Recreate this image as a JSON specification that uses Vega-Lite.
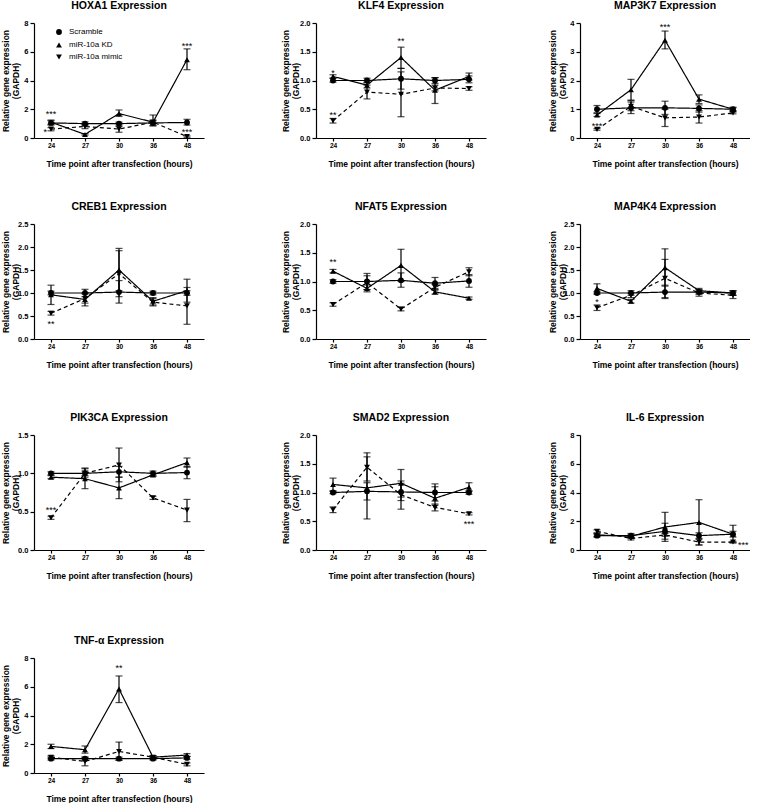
{
"$schema": "https://vega.github.io/schema/vega-lite/v6.json",
"padding": {"left": 0, "top": 0, "right": 0, "bottom": 0},
"background": "white",
"config": {
  "view": {"stroke": null},
  "font": "Liberation Sans",
  "title": {"fontSize": 10.5, "fontWeight": "bold", "color": "black", "offset": 8, "font": "Liberation Sans"},
  "axis": {"grid": false, "domainColor": "black", "domainWidth": 1.2, "tickColor": "black", "tickWidth": 1.2, "labelColor": "black", "labelFont": "Liberation Sans", "labelFontWeight": "bold", "titleColor": "black", "titleFont": "Liberation Sans", "titleFontWeight": "bold"},
  "axisX": {"labelAngle": 0, "labelFontSize": 6.5, "tickSize": 3, "labelPadding": 1, "titlePadding": 11, "titleFontSize": 8.5},
  "axisY": {"labelFontSize": 7.5, "tickSize": 4, "labelPadding": 2, "titleFontSize": 8.5, "titleLineHeight": 10, "titleBaseline": "middle", "titleAngle": -90}
},
"datasets": {
"d": [
{"gene":"HOXA1","time":"24","group":"Scramble","mean":1.05,"lo":0.9,"hi":1.2},
{"gene":"HOXA1","time":"27","group":"Scramble","mean":1.0,"lo":0.88,"hi":1.12},
{"gene":"HOXA1","time":"30","group":"Scramble","mean":1.0,"lo":0.9,"hi":1.1},
{"gene":"HOXA1","time":"36","group":"Scramble","mean":1.05,"lo":0.85,"hi":1.25},
{"gene":"HOXA1","time":"48","group":"Scramble","mean":1.08,"lo":0.9,"hi":1.3},
{"gene":"HOXA1","time":"24","group":"miR-10a KD","mean":1.1,"lo":0.95,"hi":1.25},
{"gene":"HOXA1","time":"27","group":"miR-10a KD","mean":0.25,"lo":0.2,"hi":0.3},
{"gene":"HOXA1","time":"30","group":"miR-10a KD","mean":1.7,"lo":1.5,"hi":1.95},
{"gene":"HOXA1","time":"36","group":"miR-10a KD","mean":1.1,"lo":0.85,"hi":1.6},
{"gene":"HOXA1","time":"48","group":"miR-10a KD","mean":5.45,"lo":4.75,"hi":6.2},
{"gene":"HOXA1","time":"24","group":"miR-10a mimic","mean":0.62,"lo":0.5,"hi":0.72},
{"gene":"HOXA1","time":"27","group":"miR-10a mimic","mean":0.8,"lo":0.65,"hi":0.95},
{"gene":"HOXA1","time":"30","group":"miR-10a mimic","mean":0.62,"lo":0.4,"hi":0.8},
{"gene":"HOXA1","time":"36","group":"miR-10a mimic","mean":1.1,"lo":1.0,"hi":1.2},
{"gene":"HOXA1","time":"48","group":"miR-10a mimic","mean":0.1,"lo":0.05,"hi":0.15},
{"gene":"KLF4","time":"24","group":"Scramble","mean":1.0,"lo":0.97,"hi":1.04},
{"gene":"KLF4","time":"27","group":"Scramble","mean":1.0,"lo":0.96,"hi":1.04},
{"gene":"KLF4","time":"30","group":"Scramble","mean":1.03,"lo":0.85,"hi":1.21},
{"gene":"KLF4","time":"36","group":"Scramble","mean":1.0,"lo":0.95,"hi":1.05},
{"gene":"KLF4","time":"48","group":"Scramble","mean":1.02,"lo":0.96,"hi":1.08},
{"gene":"KLF4","time":"24","group":"miR-10a KD","mean":1.07,"lo":1.04,"hi":1.1},
{"gene":"KLF4","time":"27","group":"miR-10a KD","mean":0.92,"lo":0.87,"hi":0.97},
{"gene":"KLF4","time":"30","group":"miR-10a KD","mean":1.4,"lo":1.21,"hi":1.58},
{"gene":"KLF4","time":"36","group":"miR-10a KD","mean":0.83,"lo":0.6,"hi":1.05},
{"gene":"KLF4","time":"48","group":"miR-10a KD","mean":1.07,"lo":1.01,"hi":1.13},
{"gene":"KLF4","time":"24","group":"miR-10a mimic","mean":0.3,"lo":0.26,"hi":0.34},
{"gene":"KLF4","time":"27","group":"miR-10a mimic","mean":0.8,"lo":0.68,"hi":0.92},
{"gene":"KLF4","time":"30","group":"miR-10a mimic","mean":0.76,"lo":0.37,"hi":1.15},
{"gene":"KLF4","time":"36","group":"miR-10a mimic","mean":0.87,"lo":0.82,"hi":0.92},
{"gene":"KLF4","time":"48","group":"miR-10a mimic","mean":0.86,"lo":0.83,"hi":0.89},
{"gene":"MAP3K7","time":"24","group":"Scramble","mean":1.0,"lo":0.88,"hi":1.13},
{"gene":"MAP3K7","time":"27","group":"Scramble","mean":1.05,"lo":0.85,"hi":1.25},
{"gene":"MAP3K7","time":"30","group":"Scramble","mean":1.05,"lo":0.82,"hi":1.28},
{"gene":"MAP3K7","time":"36","group":"Scramble","mean":1.03,"lo":0.9,"hi":1.15},
{"gene":"MAP3K7","time":"48","group":"Scramble","mean":1.0,"lo":0.93,"hi":1.07},
{"gene":"MAP3K7","time":"24","group":"miR-10a KD","mean":0.8,"lo":0.75,"hi":0.85},
{"gene":"MAP3K7","time":"27","group":"miR-10a KD","mean":1.68,"lo":1.32,"hi":2.04},
{"gene":"MAP3K7","time":"30","group":"miR-10a KD","mean":3.4,"lo":3.1,"hi":3.72},
{"gene":"MAP3K7","time":"36","group":"miR-10a KD","mean":1.35,"lo":1.2,"hi":1.5},
{"gene":"MAP3K7","time":"48","group":"miR-10a KD","mean":1.0,"lo":0.95,"hi":1.05},
{"gene":"MAP3K7","time":"24","group":"miR-10a mimic","mean":0.3,"lo":0.27,"hi":0.33},
{"gene":"MAP3K7","time":"27","group":"miR-10a mimic","mean":1.1,"lo":0.95,"hi":1.3},
{"gene":"MAP3K7","time":"30","group":"miR-10a mimic","mean":0.7,"lo":0.4,"hi":1.0},
{"gene":"MAP3K7","time":"36","group":"miR-10a mimic","mean":0.73,"lo":0.52,"hi":0.95},
{"gene":"MAP3K7","time":"48","group":"miR-10a mimic","mean":0.87,"lo":0.84,"hi":0.9},
{"gene":"CREB1","time":"24","group":"Scramble","mean":1.0,"lo":0.96,"hi":1.04},
{"gene":"CREB1","time":"27","group":"Scramble","mean":1.0,"lo":0.92,"hi":1.08},
{"gene":"CREB1","time":"30","group":"Scramble","mean":1.02,"lo":0.78,"hi":1.27},
{"gene":"CREB1","time":"36","group":"Scramble","mean":1.0,"lo":0.96,"hi":1.04},
{"gene":"CREB1","time":"48","group":"Scramble","mean":1.0,"lo":0.95,"hi":1.05},
{"gene":"CREB1","time":"24","group":"miR-10a KD","mean":0.96,"lo":0.75,"hi":1.17},
{"gene":"CREB1","time":"27","group":"miR-10a KD","mean":0.86,"lo":0.72,"hi":1.0},
{"gene":"CREB1","time":"30","group":"miR-10a KD","mean":1.5,"lo":1.05,"hi":1.97},
{"gene":"CREB1","time":"36","group":"miR-10a KD","mean":0.82,"lo":0.74,"hi":0.9},
{"gene":"CREB1","time":"48","group":"miR-10a KD","mean":1.05,"lo":0.8,"hi":1.3},
{"gene":"CREB1","time":"24","group":"miR-10a mimic","mean":0.56,"lo":0.52,"hi":0.6},
{"gene":"CREB1","time":"27","group":"miR-10a mimic","mean":0.88,"lo":0.78,"hi":0.98},
{"gene":"CREB1","time":"30","group":"miR-10a mimic","mean":1.42,"lo":0.92,"hi":1.92},
{"gene":"CREB1","time":"36","group":"miR-10a mimic","mean":0.8,"lo":0.72,"hi":0.88},
{"gene":"CREB1","time":"48","group":"miR-10a mimic","mean":0.72,"lo":0.32,"hi":1.12},
{"gene":"NFAT5","time":"24","group":"Scramble","mean":1.0,"lo":0.97,"hi":1.03},
{"gene":"NFAT5","time":"27","group":"Scramble","mean":1.0,"lo":0.86,"hi":1.14},
{"gene":"NFAT5","time":"30","group":"Scramble","mean":1.02,"lo":0.9,"hi":1.15},
{"gene":"NFAT5","time":"36","group":"Scramble","mean":0.97,"lo":0.88,"hi":1.07},
{"gene":"NFAT5","time":"48","group":"Scramble","mean":1.01,"lo":0.9,"hi":1.12},
{"gene":"NFAT5","time":"24","group":"miR-10a KD","mean":1.18,"lo":1.15,"hi":1.21},
{"gene":"NFAT5","time":"27","group":"miR-10a KD","mean":0.88,"lo":0.82,"hi":0.94},
{"gene":"NFAT5","time":"30","group":"miR-10a KD","mean":1.28,"lo":1.0,"hi":1.56},
{"gene":"NFAT5","time":"36","group":"miR-10a KD","mean":0.82,"lo":0.78,"hi":0.86},
{"gene":"NFAT5","time":"48","group":"miR-10a KD","mean":0.71,"lo":0.69,"hi":0.73},
{"gene":"NFAT5","time":"24","group":"miR-10a mimic","mean":0.6,"lo":0.57,"hi":0.63},
{"gene":"NFAT5","time":"27","group":"miR-10a mimic","mean":0.98,"lo":0.86,"hi":1.1},
{"gene":"NFAT5","time":"30","group":"miR-10a mimic","mean":0.52,"lo":0.49,"hi":0.55},
{"gene":"NFAT5","time":"36","group":"miR-10a mimic","mean":0.9,"lo":0.85,"hi":0.95},
{"gene":"NFAT5","time":"48","group":"miR-10a mimic","mean":1.17,"lo":1.1,"hi":1.24},
{"gene":"MAP4K4","time":"24","group":"Scramble","mean":1.0,"lo":0.97,"hi":1.03},
{"gene":"MAP4K4","time":"27","group":"Scramble","mean":1.0,"lo":0.95,"hi":1.05},
{"gene":"MAP4K4","time":"30","group":"Scramble","mean":1.02,"lo":0.88,"hi":1.17},
{"gene":"MAP4K4","time":"36","group":"Scramble","mean":1.02,"lo":0.97,"hi":1.07},
{"gene":"MAP4K4","time":"48","group":"Scramble","mean":1.0,"lo":0.95,"hi":1.05},
{"gene":"MAP4K4","time":"24","group":"miR-10a KD","mean":1.1,"lo":1.0,"hi":1.2},
{"gene":"MAP4K4","time":"27","group":"miR-10a KD","mean":0.82,"lo":0.78,"hi":0.86},
{"gene":"MAP4K4","time":"30","group":"miR-10a KD","mean":1.55,"lo":1.15,"hi":1.96},
{"gene":"MAP4K4","time":"36","group":"miR-10a KD","mean":1.05,"lo":1.0,"hi":1.1},
{"gene":"MAP4K4","time":"48","group":"miR-10a KD","mean":1.0,"lo":0.95,"hi":1.05},
{"gene":"MAP4K4","time":"24","group":"miR-10a mimic","mean":0.68,"lo":0.62,"hi":0.74},
{"gene":"MAP4K4","time":"27","group":"miR-10a mimic","mean":0.95,"lo":0.9,"hi":1.0},
{"gene":"MAP4K4","time":"30","group":"miR-10a mimic","mean":1.32,"lo":0.9,"hi":1.73},
{"gene":"MAP4K4","time":"36","group":"miR-10a mimic","mean":1.0,"lo":0.93,"hi":1.07},
{"gene":"MAP4K4","time":"48","group":"miR-10a mimic","mean":0.95,"lo":0.88,"hi":1.02},
{"gene":"PIK3CA","time":"24","group":"Scramble","mean":1.0,"lo":0.98,"hi":1.02},
{"gene":"PIK3CA","time":"27","group":"Scramble","mean":1.0,"lo":0.97,"hi":1.03},
{"gene":"PIK3CA","time":"30","group":"Scramble","mean":1.02,"lo":0.95,"hi":1.09},
{"gene":"PIK3CA","time":"36","group":"Scramble","mean":1.0,"lo":0.97,"hi":1.03},
{"gene":"PIK3CA","time":"48","group":"Scramble","mean":1.01,"lo":0.93,"hi":1.09},
{"gene":"PIK3CA","time":"24","group":"miR-10a KD","mean":0.95,"lo":0.93,"hi":0.97},
{"gene":"PIK3CA","time":"27","group":"miR-10a KD","mean":0.93,"lo":0.8,"hi":1.06},
{"gene":"PIK3CA","time":"30","group":"miR-10a KD","mean":0.81,"lo":0.67,"hi":0.95},
{"gene":"PIK3CA","time":"36","group":"miR-10a KD","mean":0.98,"lo":0.96,"hi":1.0},
{"gene":"PIK3CA","time":"48","group":"miR-10a KD","mean":1.14,"lo":1.08,"hi":1.2},
{"gene":"PIK3CA","time":"24","group":"miR-10a mimic","mean":0.42,"lo":0.4,"hi":0.44},
{"gene":"PIK3CA","time":"27","group":"miR-10a mimic","mean":1.0,"lo":0.95,"hi":1.07},
{"gene":"PIK3CA","time":"30","group":"miR-10a mimic","mean":1.11,"lo":0.89,"hi":1.33},
{"gene":"PIK3CA","time":"36","group":"miR-10a mimic","mean":0.68,"lo":0.66,"hi":0.7},
{"gene":"PIK3CA","time":"48","group":"miR-10a mimic","mean":0.52,"lo":0.37,"hi":0.66},
{"gene":"SMAD2","time":"24","group":"Scramble","mean":1.0,"lo":0.98,"hi":1.02},
{"gene":"SMAD2","time":"27","group":"Scramble","mean":1.02,"lo":0.87,"hi":1.17},
{"gene":"SMAD2","time":"30","group":"Scramble","mean":1.01,"lo":0.86,"hi":1.16},
{"gene":"SMAD2","time":"36","group":"Scramble","mean":1.0,"lo":0.85,"hi":1.15},
{"gene":"SMAD2","time":"48","group":"Scramble","mean":1.0,"lo":0.97,"hi":1.03},
{"gene":"SMAD2","time":"24","group":"miR-10a KD","mean":1.14,"lo":1.03,"hi":1.25},
{"gene":"SMAD2","time":"27","group":"miR-10a KD","mean":1.08,"lo":0.54,"hi":1.62},
{"gene":"SMAD2","time":"30","group":"miR-10a KD","mean":1.16,"lo":0.92,"hi":1.4},
{"gene":"SMAD2","time":"36","group":"miR-10a KD","mean":0.9,"lo":0.78,"hi":1.1},
{"gene":"SMAD2","time":"48","group":"miR-10a KD","mean":1.09,"lo":1.02,"hi":1.17},
{"gene":"SMAD2","time":"24","group":"miR-10a mimic","mean":0.7,"lo":0.65,"hi":0.75},
{"gene":"SMAD2","time":"27","group":"miR-10a mimic","mean":1.44,"lo":1.2,"hi":1.69},
{"gene":"SMAD2","time":"30","group":"miR-10a mimic","mean":0.96,"lo":0.71,"hi":1.2},
{"gene":"SMAD2","time":"36","group":"miR-10a mimic","mean":0.74,"lo":0.68,"hi":0.8},
{"gene":"SMAD2","time":"48","group":"miR-10a mimic","mean":0.63,"lo":0.61,"hi":0.65},
{"gene":"IL-6","time":"24","group":"Scramble","mean":1.0,"lo":0.9,"hi":1.1},
{"gene":"IL-6","time":"27","group":"Scramble","mean":1.0,"lo":0.85,"hi":1.15},
{"gene":"IL-6","time":"30","group":"Scramble","mean":1.3,"lo":0.75,"hi":1.86},
{"gene":"IL-6","time":"36","group":"Scramble","mean":1.0,"lo":0.8,"hi":1.2},
{"gene":"IL-6","time":"48","group":"Scramble","mean":1.1,"lo":0.9,"hi":1.3},
{"gene":"IL-6","time":"24","group":"miR-10a KD","mean":1.05,"lo":0.95,"hi":1.15},
{"gene":"IL-6","time":"27","group":"miR-10a KD","mean":0.95,"lo":0.85,"hi":1.05},
{"gene":"IL-6","time":"30","group":"miR-10a KD","mean":1.6,"lo":0.6,"hi":2.62},
{"gene":"IL-6","time":"36","group":"miR-10a KD","mean":1.92,"lo":0.35,"hi":3.5},
{"gene":"IL-6","time":"48","group":"miR-10a KD","mean":1.1,"lo":0.5,"hi":1.72},
{"gene":"IL-6","time":"24","group":"miR-10a mimic","mean":1.3,"lo":1.2,"hi":1.4},
{"gene":"IL-6","time":"27","group":"miR-10a mimic","mean":0.8,"lo":0.7,"hi":0.9},
{"gene":"IL-6","time":"30","group":"miR-10a mimic","mean":1.05,"lo":0.95,"hi":1.15},
{"gene":"IL-6","time":"36","group":"miR-10a mimic","mean":0.55,"lo":0.35,"hi":0.75},
{"gene":"IL-6","time":"48","group":"miR-10a mimic","mean":0.55,"lo":0.5,"hi":0.6},
{"gene":"TNF-α","time":"24","group":"Scramble","mean":1.0,"lo":0.9,"hi":1.1},
{"gene":"TNF-α","time":"27","group":"Scramble","mean":1.0,"lo":0.9,"hi":1.1},
{"gene":"TNF-α","time":"30","group":"Scramble","mean":1.0,"lo":0.9,"hi":1.1},
{"gene":"TNF-α","time":"36","group":"Scramble","mean":1.0,"lo":0.9,"hi":1.1},
{"gene":"TNF-α","time":"48","group":"Scramble","mean":1.05,"lo":0.95,"hi":1.15},
{"gene":"TNF-α","time":"24","group":"miR-10a KD","mean":1.85,"lo":1.7,"hi":2.0},
{"gene":"TNF-α","time":"27","group":"miR-10a KD","mean":1.62,"lo":1.38,"hi":1.88},
{"gene":"TNF-α","time":"30","group":"miR-10a KD","mean":5.85,"lo":4.9,"hi":6.75},
{"gene":"TNF-α","time":"36","group":"miR-10a KD","mean":1.1,"lo":1.0,"hi":1.2},
{"gene":"TNF-α","time":"48","group":"miR-10a KD","mean":1.25,"lo":1.15,"hi":1.35},
{"gene":"TNF-α","time":"24","group":"miR-10a mimic","mean":1.1,"lo":1.0,"hi":1.2},
{"gene":"TNF-α","time":"27","group":"miR-10a mimic","mean":0.8,"lo":0.5,"hi":1.1},
{"gene":"TNF-α","time":"30","group":"miR-10a mimic","mean":1.5,"lo":0.88,"hi":2.15},
{"gene":"TNF-α","time":"36","group":"miR-10a mimic","mean":1.1,"lo":1.0,"hi":1.2},
{"gene":"TNF-α","time":"48","group":"miR-10a mimic","mean":0.6,"lo":0.5,"hi":0.7}
],
"sig": [
{"gene":"HOXA1","time":"24","label":"***","y":1.8,"side":"center"},
{"gene":"HOXA1","time":"24","label":"*","y":0.55,"side":"left"},
{"gene":"HOXA1","time":"48","label":"***","y":6.55,"side":"center"},
{"gene":"HOXA1","time":"48","label":"***","y":0.55,"side":"center"},
{"gene":"KLF4","time":"24","label":"*","y":1.17,"side":"center"},
{"gene":"KLF4","time":"24","label":"**","y":0.43,"side":"center"},
{"gene":"KLF4","time":"30","label":"**","y":1.72,"side":"center"},
{"gene":"MAP3K7","time":"30","label":"***","y":3.92,"side":"center"},
{"gene":"MAP3K7","time":"24","label":"***","y":0.47,"side":"center"},
{"gene":"CREB1","time":"24","label":"**","y":0.36,"side":"center"},
{"gene":"NFAT5","time":"24","label":"**","y":1.38,"side":"center"},
{"gene":"MAP4K4","time":"24","label":"*","y":0.84,"side":"center"},
{"gene":"PIK3CA","time":"24","label":"***","y":0.55,"side":"center"},
{"gene":"SMAD2","time":"48","label":"***","y":0.49,"side":"center"},
{"gene":"IL-6","time":"48","label":"***","y":0.46,"side":"right"},
{"gene":"TNF-α","time":"30","label":"**","y":7.47,"side":"center"}
]
},
"spacing": 33,
"resolve": {"scale": {"shape": "independent", "strokeDash": "independent"}, "legend": {"shape": "independent", "strokeDash": "independent"}},
"vconcat": [
{"spacing": 76, "resolve": {"scale": {"shape": "independent", "strokeDash": "independent"}, "legend": {"shape": "independent", "strokeDash": "independent"}}, "hconcat": [
{"resolve": {"scale": {"shape": "independent", "strokeDash": "independent"}, "legend": {"shape": "independent", "strokeDash": "independent"}}, "hconcat": [
{"width":170,"height":115,"title":"HOXA1 Expression","data":{"name":"d"},"transform":[{"filter":"datum.gene==='HOXA1'"}],
 "encoding":{"x":{"field":"time","type":"ordinal","sort":["24","27","30","36","48"],"scale":{"type":"point","padding":0.5},"axis":{"title":"Time point after transfection (hours)"}}},
 "layer":[
  {"mark":{"type":"line","color":"black","strokeWidth":1.2},"encoding":{"y":{"field":"mean","type":"quantitative","scale":{"domain":[0,8],"nice":false},"axis":{"values":[0,2,4,6,8],"format":"d","title":["Relative gene expression","(GAPDH)"],"titleX":-29,"titleY":57.5}},"strokeDash":{"field":"group","type":"nominal","scale":{"domain":["Scramble","miR-10a KD","miR-10a mimic"],"range":[[1,0],[1,0],[4,3]]},
      "legend":{"title":null,"orient":"none","legendX":21,"legendY":5,"symbolSize":34,"labelOffset":6,"labelFontSize":8,"labelFont":"Liberation Sans","labelColor":"black","rowPadding":2,"padding":0,"symbolStrokeWidth":1.2,"symbolFillColor":"black","symbolStrokeColor":"black"}}}},
  {"mark":{"type":"rule","color":"black","strokeWidth":1.2},"encoding":{"y":{"field":"lo","type":"quantitative","scale":{"domain":[0,8],"nice":false},"axis":{"values":[0,2,4,6,8],"format":"d","title":["Relative gene expression","(GAPDH)"],"titleX":-29,"titleY":57.5}},"y2":{"field":"hi"}}},
  {"mark":{"type":"tick","color":"black","size":7,"thickness":1.2},"encoding":{"y":{"field":"lo","type":"quantitative","scale":{"domain":[0,8],"nice":false},"axis":{"values":[0,2,4,6,8],"format":"d","title":["Relative gene expression","(GAPDH)"],"titleX":-29,"titleY":57.5}}}},
  {"mark":{"type":"tick","color":"black","size":7,"thickness":1.2},"encoding":{"y":{"field":"hi","type":"quantitative","scale":{"domain":[0,8],"nice":false},"axis":{"values":[0,2,4,6,8],"format":"d","title":["Relative gene expression","(GAPDH)"],"titleX":-29,"titleY":57.5}}}},
  {"mark":{"type":"point","filled":true,"color":"black","size":34,"opacity":1},"encoding":{"y":{"field":"mean","type":"quantitative","scale":{"domain":[0,8],"nice":false},"axis":{"values":[0,2,4,6,8],"format":"d","title":["Relative gene expression","(GAPDH)"],"titleX":-29,"titleY":57.5}},"shape":{"field":"group","type":"nominal","scale":{"domain":["Scramble","miR-10a KD","miR-10a mimic"],"range":["circle","triangle-up","triangle-down"]},
      "legend":{"title":null,"orient":"none","legendX":21,"legendY":5,"symbolSize":34,"labelOffset":6,"labelFontSize":8,"labelFont":"Liberation Sans","labelColor":"black","rowPadding":2,"padding":0,"symbolStrokeWidth":1.2,"symbolFillColor":"black","symbolStrokeColor":"black"}}}},
  {"data":{"name":"sig"},"transform":[{"filter":"datum.gene==='HOXA1' && datum.side==='center'"}],"mark":{"type":"text","font":"Liberation Sans","fontSize":9,"color":"black","baseline":"alphabetic","dy":5},"encoding":{"y":{"field":"y","type":"quantitative","scale":{"domain":[0,8],"nice":false},"axis":{"values":[0,2,4,6,8],"format":"d","title":["Relative gene expression","(GAPDH)"],"titleX":-29,"titleY":57.5}},"text":{"field":"label"}}},
  {"data":{"name":"sig"},"transform":[{"filter":"datum.gene==='HOXA1' && datum.side==='left'"}],"mark":{"type":"text","font":"Liberation Sans","fontSize":9,"color":"black","baseline":"alphabetic","dy":5,"align":"right","dx":-4},"encoding":{"y":{"field":"y","type":"quantitative","scale":{"domain":[0,8],"nice":false},"axis":{"values":[0,2,4,6,8],"format":"d","title":["Relative gene expression","(GAPDH)"],"titleX":-29,"titleY":57.5}},"text":{"field":"label"}}}
 ]}
]},
{"spacing": 61, "resolve": {"scale": {"shape": "independent", "strokeDash": "independent"}, "legend": {"shape": "independent", "strokeDash": "independent"}}, "hconcat": [
{"width":170,"height":115,"title":"KLF4 Expression","data":{"name":"d"},"transform":[{"filter":"datum.gene==='KLF4'"}],
 "encoding":{"x":{"field":"time","type":"ordinal","sort":["24","27","30","36","48"],"scale":{"type":"point","padding":0.5},"axis":{"title":"Time point after transfection (hours)"}}},
 "layer":[
  {"mark":{"type":"line","color":"black","strokeWidth":1.2},"encoding":{"y":{"field":"mean","type":"quantitative","scale":{"domain":[0,2],"nice":false},"axis":{"values":[0,0.5,1,1.5,2],"format":".1f","title":["Relative gene expression","(GAPDH)"],"titleX":-31,"titleY":57.5}},"strokeDash":{"field":"group","type":"nominal","scale":{"domain":["Scramble","miR-10a KD","miR-10a mimic"],"range":[[1,0],[1,0],[4,3]]},"legend":null}}},
  {"mark":{"type":"rule","color":"black","strokeWidth":1.2},"encoding":{"y":{"field":"lo","type":"quantitative","scale":{"domain":[0,2],"nice":false},"axis":{"values":[0,0.5,1,1.5,2],"format":".1f","title":["Relative gene expression","(GAPDH)"],"titleX":-31,"titleY":57.5}},"y2":{"field":"hi"}}},
  {"mark":{"type":"tick","color":"black","size":7,"thickness":1.2},"encoding":{"y":{"field":"lo","type":"quantitative","scale":{"domain":[0,2],"nice":false},"axis":{"values":[0,0.5,1,1.5,2],"format":".1f","title":["Relative gene expression","(GAPDH)"],"titleX":-31,"titleY":57.5}}}},
  {"mark":{"type":"tick","color":"black","size":7,"thickness":1.2},"encoding":{"y":{"field":"hi","type":"quantitative","scale":{"domain":[0,2],"nice":false},"axis":{"values":[0,0.5,1,1.5,2],"format":".1f","title":["Relative gene expression","(GAPDH)"],"titleX":-31,"titleY":57.5}}}},
  {"mark":{"type":"point","filled":true,"color":"black","size":34,"opacity":1},"encoding":{"y":{"field":"mean","type":"quantitative","scale":{"domain":[0,2],"nice":false},"axis":{"values":[0,0.5,1,1.5,2],"format":".1f","title":["Relative gene expression","(GAPDH)"],"titleX":-31,"titleY":57.5}},"shape":{"field":"group","type":"nominal","scale":{"domain":["Scramble","miR-10a KD","miR-10a mimic"],"range":["circle","triangle-up","triangle-down"]},"legend":null}}},
  {"data":{"name":"sig"},"transform":[{"filter":"datum.gene==='KLF4' && datum.side==='center'"}],"mark":{"type":"text","font":"Liberation Sans","fontSize":9,"color":"black","baseline":"alphabetic","dy":5},"encoding":{"y":{"field":"y","type":"quantitative","scale":{"domain":[0,2],"nice":false},"axis":{"values":[0,0.5,1,1.5,2],"format":".1f","title":["Relative gene expression","(GAPDH)"],"titleX":-31,"titleY":57.5}},"text":{"field":"label"}}}
 ]},
{"width":170,"height":115,"title":"MAP3K7 Expression","data":{"name":"d"},"transform":[{"filter":"datum.gene==='MAP3K7'"}],
 "encoding":{"x":{"field":"time","type":"ordinal","sort":["24","27","30","36","48"],"scale":{"type":"point","padding":0.5},"axis":{"title":"Time point after transfection (hours)"}}},
 "layer":[
  {"mark":{"type":"line","color":"black","strokeWidth":1.2},"encoding":{"y":{"field":"mean","type":"quantitative","scale":{"domain":[0,4],"nice":false},"axis":{"values":[0,1,2,3,4],"format":"d","title":["Relative gene expression","(GAPDH)"],"titleX":-28,"titleY":57.5}},"strokeDash":{"field":"group","type":"nominal","scale":{"domain":["Scramble","miR-10a KD","miR-10a mimic"],"range":[[1,0],[1,0],[4,3]]},"legend":null}}},
  {"mark":{"type":"rule","color":"black","strokeWidth":1.2},"encoding":{"y":{"field":"lo","type":"quantitative","scale":{"domain":[0,4],"nice":false},"axis":{"values":[0,1,2,3,4],"format":"d","title":["Relative gene expression","(GAPDH)"],"titleX":-28,"titleY":57.5}},"y2":{"field":"hi"}}},
  {"mark":{"type":"tick","color":"black","size":7,"thickness":1.2},"encoding":{"y":{"field":"lo","type":"quantitative","scale":{"domain":[0,4],"nice":false},"axis":{"values":[0,1,2,3,4],"format":"d","title":["Relative gene expression","(GAPDH)"],"titleX":-28,"titleY":57.5}}}},
  {"mark":{"type":"tick","color":"black","size":7,"thickness":1.2},"encoding":{"y":{"field":"hi","type":"quantitative","scale":{"domain":[0,4],"nice":false},"axis":{"values":[0,1,2,3,4],"format":"d","title":["Relative gene expression","(GAPDH)"],"titleX":-28,"titleY":57.5}}}},
  {"mark":{"type":"point","filled":true,"color":"black","size":34,"opacity":1},"encoding":{"y":{"field":"mean","type":"quantitative","scale":{"domain":[0,4],"nice":false},"axis":{"values":[0,1,2,3,4],"format":"d","title":["Relative gene expression","(GAPDH)"],"titleX":-28,"titleY":57.5}},"shape":{"field":"group","type":"nominal","scale":{"domain":["Scramble","miR-10a KD","miR-10a mimic"],"range":["circle","triangle-up","triangle-down"]},"legend":null}}},
  {"data":{"name":"sig"},"transform":[{"filter":"datum.gene==='MAP3K7' && datum.side==='center'"}],"mark":{"type":"text","font":"Liberation Sans","fontSize":9,"color":"black","baseline":"alphabetic","dy":5},"encoding":{"y":{"field":"y","type":"quantitative","scale":{"domain":[0,4],"nice":false},"axis":{"values":[0,1,2,3,4],"format":"d","title":["Relative gene expression","(GAPDH)"],"titleX":-28,"titleY":57.5}},"text":{"field":"label"}}}
 ]}
]}
]},
{"spacing": 43, "resolve": {"scale": {"shape": "independent", "strokeDash": "independent"}, "legend": {"shape": "independent", "strokeDash": "independent"}}, "vconcat": [
{"spacing": 76, "resolve": {"scale": {"shape": "independent", "strokeDash": "independent"}, "legend": {"shape": "independent", "strokeDash": "independent"}}, "hconcat": [
{"resolve": {"scale": {"shape": "independent", "strokeDash": "independent"}, "legend": {"shape": "independent", "strokeDash": "independent"}}, "hconcat": [
{"width":170,"height":115,"title":"CREB1 Expression","data":{"name":"d"},"transform":[{"filter":"datum.gene==='CREB1'"}],
 "encoding":{"x":{"field":"time","type":"ordinal","sort":["24","27","30","36","48"],"scale":{"type":"point","padding":0.5},"axis":{"title":"Time point after transfection (hours)"}}},
 "layer":[
  {"mark":{"type":"line","color":"black","strokeWidth":1.2},"encoding":{"y":{"field":"mean","type":"quantitative","scale":{"domain":[0,2.5],"nice":false},"axis":{"values":[0,0.5,1,1.5,2,2.5],"format":".1f","title":["Relative gene expression","(GAPDH)"],"titleX":-29,"titleY":57.5}},"strokeDash":{"field":"group","type":"nominal","scale":{"domain":["Scramble","miR-10a KD","miR-10a mimic"],"range":[[1,0],[1,0],[4,3]]},"legend":null}}},
  {"mark":{"type":"rule","color":"black","strokeWidth":1.2},"encoding":{"y":{"field":"lo","type":"quantitative","scale":{"domain":[0,2.5],"nice":false},"axis":{"values":[0,0.5,1,1.5,2,2.5],"format":".1f","title":["Relative gene expression","(GAPDH)"],"titleX":-29,"titleY":57.5}},"y2":{"field":"hi"}}},
  {"mark":{"type":"tick","color":"black","size":7,"thickness":1.2},"encoding":{"y":{"field":"lo","type":"quantitative","scale":{"domain":[0,2.5],"nice":false},"axis":{"values":[0,0.5,1,1.5,2,2.5],"format":".1f","title":["Relative gene expression","(GAPDH)"],"titleX":-29,"titleY":57.5}}}},
  {"mark":{"type":"tick","color":"black","size":7,"thickness":1.2},"encoding":{"y":{"field":"hi","type":"quantitative","scale":{"domain":[0,2.5],"nice":false},"axis":{"values":[0,0.5,1,1.5,2,2.5],"format":".1f","title":["Relative gene expression","(GAPDH)"],"titleX":-29,"titleY":57.5}}}},
  {"mark":{"type":"point","filled":true,"color":"black","size":34,"opacity":1},"encoding":{"y":{"field":"mean","type":"quantitative","scale":{"domain":[0,2.5],"nice":false},"axis":{"values":[0,0.5,1,1.5,2,2.5],"format":".1f","title":["Relative gene expression","(GAPDH)"],"titleX":-29,"titleY":57.5}},"shape":{"field":"group","type":"nominal","scale":{"domain":["Scramble","miR-10a KD","miR-10a mimic"],"range":["circle","triangle-up","triangle-down"]},"legend":null}}},
  {"data":{"name":"sig"},"transform":[{"filter":"datum.gene==='CREB1' && datum.side==='center'"}],"mark":{"type":"text","font":"Liberation Sans","fontSize":9,"color":"black","baseline":"alphabetic","dy":5},"encoding":{"y":{"field":"y","type":"quantitative","scale":{"domain":[0,2.5],"nice":false},"axis":{"values":[0,0.5,1,1.5,2,2.5],"format":".1f","title":["Relative gene expression","(GAPDH)"],"titleX":-29,"titleY":57.5}},"text":{"field":"label"}}}
 ]}
]},
{"spacing": 61, "resolve": {"scale": {"shape": "independent", "strokeDash": "independent"}, "legend": {"shape": "independent", "strokeDash": "independent"}}, "hconcat": [
{"width":170,"height":115,"title":"NFAT5 Expression","data":{"name":"d"},"transform":[{"filter":"datum.gene==='NFAT5'"}],
 "encoding":{"x":{"field":"time","type":"ordinal","sort":["24","27","30","36","48"],"scale":{"type":"point","padding":0.5},"axis":{"title":"Time point after transfection (hours)"}}},
 "layer":[
  {"mark":{"type":"line","color":"black","strokeWidth":1.2},"encoding":{"y":{"field":"mean","type":"quantitative","scale":{"domain":[0,2],"nice":false},"axis":{"values":[0,0.5,1,1.5,2],"format":".1f","title":["Relative gene expression","(GAPDH)"],"titleX":-31,"titleY":57.5}},"strokeDash":{"field":"group","type":"nominal","scale":{"domain":["Scramble","miR-10a KD","miR-10a mimic"],"range":[[1,0],[1,0],[4,3]]},"legend":null}}},
  {"mark":{"type":"rule","color":"black","strokeWidth":1.2},"encoding":{"y":{"field":"lo","type":"quantitative","scale":{"domain":[0,2],"nice":false},"axis":{"values":[0,0.5,1,1.5,2],"format":".1f","title":["Relative gene expression","(GAPDH)"],"titleX":-31,"titleY":57.5}},"y2":{"field":"hi"}}},
  {"mark":{"type":"tick","color":"black","size":7,"thickness":1.2},"encoding":{"y":{"field":"lo","type":"quantitative","scale":{"domain":[0,2],"nice":false},"axis":{"values":[0,0.5,1,1.5,2],"format":".1f","title":["Relative gene expression","(GAPDH)"],"titleX":-31,"titleY":57.5}}}},
  {"mark":{"type":"tick","color":"black","size":7,"thickness":1.2},"encoding":{"y":{"field":"hi","type":"quantitative","scale":{"domain":[0,2],"nice":false},"axis":{"values":[0,0.5,1,1.5,2],"format":".1f","title":["Relative gene expression","(GAPDH)"],"titleX":-31,"titleY":57.5}}}},
  {"mark":{"type":"point","filled":true,"color":"black","size":34,"opacity":1},"encoding":{"y":{"field":"mean","type":"quantitative","scale":{"domain":[0,2],"nice":false},"axis":{"values":[0,0.5,1,1.5,2],"format":".1f","title":["Relative gene expression","(GAPDH)"],"titleX":-31,"titleY":57.5}},"shape":{"field":"group","type":"nominal","scale":{"domain":["Scramble","miR-10a KD","miR-10a mimic"],"range":["circle","triangle-up","triangle-down"]},"legend":null}}},
  {"data":{"name":"sig"},"transform":[{"filter":"datum.gene==='NFAT5' && datum.side==='center'"}],"mark":{"type":"text","font":"Liberation Sans","fontSize":9,"color":"black","baseline":"alphabetic","dy":5},"encoding":{"y":{"field":"y","type":"quantitative","scale":{"domain":[0,2],"nice":false},"axis":{"values":[0,0.5,1,1.5,2],"format":".1f","title":["Relative gene expression","(GAPDH)"],"titleX":-31,"titleY":57.5}},"text":{"field":"label"}}}
 ]},
{"width":170,"height":115,"title":"MAP4K4 Expression","data":{"name":"d"},"transform":[{"filter":"datum.gene==='MAP4K4'"}],
 "encoding":{"x":{"field":"time","type":"ordinal","sort":["24","27","30","36","48"],"scale":{"type":"point","padding":0.5},"axis":{"title":"Time point after transfection (hours)"}}},
 "layer":[
  {"mark":{"type":"line","color":"black","strokeWidth":1.2},"encoding":{"y":{"field":"mean","type":"quantitative","scale":{"domain":[0,2.5],"nice":false},"axis":{"values":[0,0.5,1,1.5,2,2.5],"format":".1f","title":["Relative gene expression","(GAPDH)"],"titleX":-28,"titleY":57.5}},"strokeDash":{"field":"group","type":"nominal","scale":{"domain":["Scramble","miR-10a KD","miR-10a mimic"],"range":[[1,0],[1,0],[4,3]]},"legend":null}}},
  {"mark":{"type":"rule","color":"black","strokeWidth":1.2},"encoding":{"y":{"field":"lo","type":"quantitative","scale":{"domain":[0,2.5],"nice":false},"axis":{"values":[0,0.5,1,1.5,2,2.5],"format":".1f","title":["Relative gene expression","(GAPDH)"],"titleX":-28,"titleY":57.5}},"y2":{"field":"hi"}}},
  {"mark":{"type":"tick","color":"black","size":7,"thickness":1.2},"encoding":{"y":{"field":"lo","type":"quantitative","scale":{"domain":[0,2.5],"nice":false},"axis":{"values":[0,0.5,1,1.5,2,2.5],"format":".1f","title":["Relative gene expression","(GAPDH)"],"titleX":-28,"titleY":57.5}}}},
  {"mark":{"type":"tick","color":"black","size":7,"thickness":1.2},"encoding":{"y":{"field":"hi","type":"quantitative","scale":{"domain":[0,2.5],"nice":false},"axis":{"values":[0,0.5,1,1.5,2,2.5],"format":".1f","title":["Relative gene expression","(GAPDH)"],"titleX":-28,"titleY":57.5}}}},
  {"mark":{"type":"point","filled":true,"color":"black","size":34,"opacity":1},"encoding":{"y":{"field":"mean","type":"quantitative","scale":{"domain":[0,2.5],"nice":false},"axis":{"values":[0,0.5,1,1.5,2,2.5],"format":".1f","title":["Relative gene expression","(GAPDH)"],"titleX":-28,"titleY":57.5}},"shape":{"field":"group","type":"nominal","scale":{"domain":["Scramble","miR-10a KD","miR-10a mimic"],"range":["circle","triangle-up","triangle-down"]},"legend":null}}},
  {"data":{"name":"sig"},"transform":[{"filter":"datum.gene==='MAP4K4' && datum.side==='center'"}],"mark":{"type":"text","font":"Liberation Sans","fontSize":9,"color":"black","baseline":"alphabetic","dy":5},"encoding":{"y":{"field":"y","type":"quantitative","scale":{"domain":[0,2.5],"nice":false},"axis":{"values":[0,0.5,1,1.5,2,2.5],"format":".1f","title":["Relative gene expression","(GAPDH)"],"titleX":-28,"titleY":57.5}},"text":{"field":"label"}}}
 ]}
]}
]},
{"spacing": 55, "resolve": {"scale": {"shape": "independent", "strokeDash": "independent"}, "legend": {"shape": "independent", "strokeDash": "independent"}}, "vconcat": [
{"spacing": 76, "resolve": {"scale": {"shape": "independent", "strokeDash": "independent"}, "legend": {"shape": "independent", "strokeDash": "independent"}}, "hconcat": [
{"resolve": {"scale": {"shape": "independent", "strokeDash": "independent"}, "legend": {"shape": "independent", "strokeDash": "independent"}}, "hconcat": [
{"width":170,"height":115,"title":"PIK3CA Expression","data":{"name":"d"},"transform":[{"filter":"datum.gene==='PIK3CA'"}],
 "encoding":{"x":{"field":"time","type":"ordinal","sort":["24","27","30","36","48"],"scale":{"type":"point","padding":0.5},"axis":{"title":"Time point after transfection (hours)"}}},
 "layer":[
  {"mark":{"type":"line","color":"black","strokeWidth":1.2},"encoding":{"y":{"field":"mean","type":"quantitative","scale":{"domain":[0,1.5],"nice":false},"axis":{"values":[0,0.5,1,1.5],"format":".1f","title":["Relative gene expression","(GAPDH)"],"titleX":-29,"titleY":57.5}},"strokeDash":{"field":"group","type":"nominal","scale":{"domain":["Scramble","miR-10a KD","miR-10a mimic"],"range":[[1,0],[1,0],[4,3]]},"legend":null}}},
  {"mark":{"type":"rule","color":"black","strokeWidth":1.2},"encoding":{"y":{"field":"lo","type":"quantitative","scale":{"domain":[0,1.5],"nice":false},"axis":{"values":[0,0.5,1,1.5],"format":".1f","title":["Relative gene expression","(GAPDH)"],"titleX":-29,"titleY":57.5}},"y2":{"field":"hi"}}},
  {"mark":{"type":"tick","color":"black","size":7,"thickness":1.2},"encoding":{"y":{"field":"lo","type":"quantitative","scale":{"domain":[0,1.5],"nice":false},"axis":{"values":[0,0.5,1,1.5],"format":".1f","title":["Relative gene expression","(GAPDH)"],"titleX":-29,"titleY":57.5}}}},
  {"mark":{"type":"tick","color":"black","size":7,"thickness":1.2},"encoding":{"y":{"field":"hi","type":"quantitative","scale":{"domain":[0,1.5],"nice":false},"axis":{"values":[0,0.5,1,1.5],"format":".1f","title":["Relative gene expression","(GAPDH)"],"titleX":-29,"titleY":57.5}}}},
  {"mark":{"type":"point","filled":true,"color":"black","size":34,"opacity":1},"encoding":{"y":{"field":"mean","type":"quantitative","scale":{"domain":[0,1.5],"nice":false},"axis":{"values":[0,0.5,1,1.5],"format":".1f","title":["Relative gene expression","(GAPDH)"],"titleX":-29,"titleY":57.5}},"shape":{"field":"group","type":"nominal","scale":{"domain":["Scramble","miR-10a KD","miR-10a mimic"],"range":["circle","triangle-up","triangle-down"]},"legend":null}}},
  {"data":{"name":"sig"},"transform":[{"filter":"datum.gene==='PIK3CA' && datum.side==='center'"}],"mark":{"type":"text","font":"Liberation Sans","fontSize":9,"color":"black","baseline":"alphabetic","dy":5},"encoding":{"y":{"field":"y","type":"quantitative","scale":{"domain":[0,1.5],"nice":false},"axis":{"values":[0,0.5,1,1.5],"format":".1f","title":["Relative gene expression","(GAPDH)"],"titleX":-29,"titleY":57.5}},"text":{"field":"label"}}}
 ]}
]},
{"spacing": 61, "resolve": {"scale": {"shape": "independent", "strokeDash": "independent"}, "legend": {"shape": "independent", "strokeDash": "independent"}}, "hconcat": [
{"width":170,"height":115,"title":"SMAD2 Expression","data":{"name":"d"},"transform":[{"filter":"datum.gene==='SMAD2'"}],
 "encoding":{"x":{"field":"time","type":"ordinal","sort":["24","27","30","36","48"],"scale":{"type":"point","padding":0.5},"axis":{"title":"Time point after transfection (hours)"}}},
 "layer":[
  {"mark":{"type":"line","color":"black","strokeWidth":1.2},"encoding":{"y":{"field":"mean","type":"quantitative","scale":{"domain":[0,2],"nice":false},"axis":{"values":[0,0.5,1,1.5,2],"format":".1f","title":["Relative gene expression","(GAPDH)"],"titleX":-31,"titleY":57.5}},"strokeDash":{"field":"group","type":"nominal","scale":{"domain":["Scramble","miR-10a KD","miR-10a mimic"],"range":[[1,0],[1,0],[4,3]]},"legend":null}}},
  {"mark":{"type":"rule","color":"black","strokeWidth":1.2},"encoding":{"y":{"field":"lo","type":"quantitative","scale":{"domain":[0,2],"nice":false},"axis":{"values":[0,0.5,1,1.5,2],"format":".1f","title":["Relative gene expression","(GAPDH)"],"titleX":-31,"titleY":57.5}},"y2":{"field":"hi"}}},
  {"mark":{"type":"tick","color":"black","size":7,"thickness":1.2},"encoding":{"y":{"field":"lo","type":"quantitative","scale":{"domain":[0,2],"nice":false},"axis":{"values":[0,0.5,1,1.5,2],"format":".1f","title":["Relative gene expression","(GAPDH)"],"titleX":-31,"titleY":57.5}}}},
  {"mark":{"type":"tick","color":"black","size":7,"thickness":1.2},"encoding":{"y":{"field":"hi","type":"quantitative","scale":{"domain":[0,2],"nice":false},"axis":{"values":[0,0.5,1,1.5,2],"format":".1f","title":["Relative gene expression","(GAPDH)"],"titleX":-31,"titleY":57.5}}}},
  {"mark":{"type":"point","filled":true,"color":"black","size":34,"opacity":1},"encoding":{"y":{"field":"mean","type":"quantitative","scale":{"domain":[0,2],"nice":false},"axis":{"values":[0,0.5,1,1.5,2],"format":".1f","title":["Relative gene expression","(GAPDH)"],"titleX":-31,"titleY":57.5}},"shape":{"field":"group","type":"nominal","scale":{"domain":["Scramble","miR-10a KD","miR-10a mimic"],"range":["circle","triangle-up","triangle-down"]},"legend":null}}},
  {"data":{"name":"sig"},"transform":[{"filter":"datum.gene==='SMAD2' && datum.side==='center'"}],"mark":{"type":"text","font":"Liberation Sans","fontSize":9,"color":"black","baseline":"alphabetic","dy":5},"encoding":{"y":{"field":"y","type":"quantitative","scale":{"domain":[0,2],"nice":false},"axis":{"values":[0,0.5,1,1.5,2],"format":".1f","title":["Relative gene expression","(GAPDH)"],"titleX":-31,"titleY":57.5}},"text":{"field":"label"}}}
 ]},
{"width":170,"height":115,"title":"IL-6 Expression","data":{"name":"d"},"transform":[{"filter":"datum.gene==='IL-6'"}],
 "encoding":{"x":{"field":"time","type":"ordinal","sort":["24","27","30","36","48"],"scale":{"type":"point","padding":0.5},"axis":{"title":"Time point after transfection (hours)"}}},
 "layer":[
  {"mark":{"type":"line","color":"black","strokeWidth":1.2},"encoding":{"y":{"field":"mean","type":"quantitative","scale":{"domain":[0,8],"nice":false},"axis":{"values":[0,2,4,6,8],"format":"d","title":["Relative gene expression","(GAPDH)"],"titleX":-28,"titleY":57.5}},"strokeDash":{"field":"group","type":"nominal","scale":{"domain":["Scramble","miR-10a KD","miR-10a mimic"],"range":[[1,0],[1,0],[4,3]]},"legend":null}}},
  {"mark":{"type":"rule","color":"black","strokeWidth":1.2},"encoding":{"y":{"field":"lo","type":"quantitative","scale":{"domain":[0,8],"nice":false},"axis":{"values":[0,2,4,6,8],"format":"d","title":["Relative gene expression","(GAPDH)"],"titleX":-28,"titleY":57.5}},"y2":{"field":"hi"}}},
  {"mark":{"type":"tick","color":"black","size":7,"thickness":1.2},"encoding":{"y":{"field":"lo","type":"quantitative","scale":{"domain":[0,8],"nice":false},"axis":{"values":[0,2,4,6,8],"format":"d","title":["Relative gene expression","(GAPDH)"],"titleX":-28,"titleY":57.5}}}},
  {"mark":{"type":"tick","color":"black","size":7,"thickness":1.2},"encoding":{"y":{"field":"hi","type":"quantitative","scale":{"domain":[0,8],"nice":false},"axis":{"values":[0,2,4,6,8],"format":"d","title":["Relative gene expression","(GAPDH)"],"titleX":-28,"titleY":57.5}}}},
  {"mark":{"type":"point","filled":true,"color":"black","size":34,"opacity":1},"encoding":{"y":{"field":"mean","type":"quantitative","scale":{"domain":[0,8],"nice":false},"axis":{"values":[0,2,4,6,8],"format":"d","title":["Relative gene expression","(GAPDH)"],"titleX":-28,"titleY":57.5}},"shape":{"field":"group","type":"nominal","scale":{"domain":["Scramble","miR-10a KD","miR-10a mimic"],"range":["circle","triangle-up","triangle-down"]},"legend":null}}},
  {"data":{"name":"sig"},"transform":[{"filter":"datum.gene==='IL-6' && datum.side==='right'"}],"mark":{"type":"text","font":"Liberation Sans","fontSize":9,"color":"black","baseline":"alphabetic","dy":5,"align":"left","dx":5},"encoding":{"y":{"field":"y","type":"quantitative","scale":{"domain":[0,8],"nice":false},"axis":{"values":[0,2,4,6,8],"format":"d","title":["Relative gene expression","(GAPDH)"],"titleX":-28,"titleY":57.5}},"text":{"field":"label"}}}
 ]}
]}
]},
{"resolve": {"scale": {"shape": "independent", "strokeDash": "independent"}, "legend": {"shape": "independent", "strokeDash": "independent"}}, "hconcat": [
{"resolve": {"scale": {"shape": "independent", "strokeDash": "independent"}, "legend": {"shape": "independent", "strokeDash": "independent"}}, "hconcat": [
{"width":170,"height":115,"title":"TNF-α Expression","data":{"name":"d"},"transform":[{"filter":"datum.gene==='TNF-α'"}],
 "encoding":{"x":{"field":"time","type":"ordinal","sort":["24","27","30","36","48"],"scale":{"type":"point","padding":0.5},"axis":{"title":"Time point after transfection (hours)"}}},
 "layer":[
  {"mark":{"type":"line","color":"black","strokeWidth":1.2},"encoding":{"y":{"field":"mean","type":"quantitative","scale":{"domain":[0,8],"nice":false},"axis":{"values":[0,2,4,6,8],"format":"d","title":["Relative gene expression","(GAPDH)"],"titleX":-29,"titleY":57.5}},"strokeDash":{"field":"group","type":"nominal","scale":{"domain":["Scramble","miR-10a KD","miR-10a mimic"],"range":[[1,0],[1,0],[4,3]]},"legend":null}}},
  {"mark":{"type":"rule","color":"black","strokeWidth":1.2},"encoding":{"y":{"field":"lo","type":"quantitative","scale":{"domain":[0,8],"nice":false},"axis":{"values":[0,2,4,6,8],"format":"d","title":["Relative gene expression","(GAPDH)"],"titleX":-29,"titleY":57.5}},"y2":{"field":"hi"}}},
  {"mark":{"type":"tick","color":"black","size":7,"thickness":1.2},"encoding":{"y":{"field":"lo","type":"quantitative","scale":{"domain":[0,8],"nice":false},"axis":{"values":[0,2,4,6,8],"format":"d","title":["Relative gene expression","(GAPDH)"],"titleX":-29,"titleY":57.5}}}},
  {"mark":{"type":"tick","color":"black","size":7,"thickness":1.2},"encoding":{"y":{"field":"hi","type":"quantitative","scale":{"domain":[0,8],"nice":false},"axis":{"values":[0,2,4,6,8],"format":"d","title":["Relative gene expression","(GAPDH)"],"titleX":-29,"titleY":57.5}}}},
  {"mark":{"type":"point","filled":true,"color":"black","size":34,"opacity":1},"encoding":{"y":{"field":"mean","type":"quantitative","scale":{"domain":[0,8],"nice":false},"axis":{"values":[0,2,4,6,8],"format":"d","title":["Relative gene expression","(GAPDH)"],"titleX":-29,"titleY":57.5}},"shape":{"field":"group","type":"nominal","scale":{"domain":["Scramble","miR-10a KD","miR-10a mimic"],"range":["circle","triangle-up","triangle-down"]},"legend":null}}},
  {"data":{"name":"sig"},"transform":[{"filter":"datum.gene==='TNF-α' && datum.side==='center'"}],"mark":{"type":"text","font":"Liberation Sans","fontSize":9,"color":"black","baseline":"alphabetic","dy":5},"encoding":{"y":{"field":"y","type":"quantitative","scale":{"domain":[0,8],"nice":false},"axis":{"values":[0,2,4,6,8],"format":"d","title":["Relative gene expression","(GAPDH)"],"titleX":-29,"titleY":57.5}},"text":{"field":"label"}}}
 ]}
]}
]}
]}
]}
]
}
